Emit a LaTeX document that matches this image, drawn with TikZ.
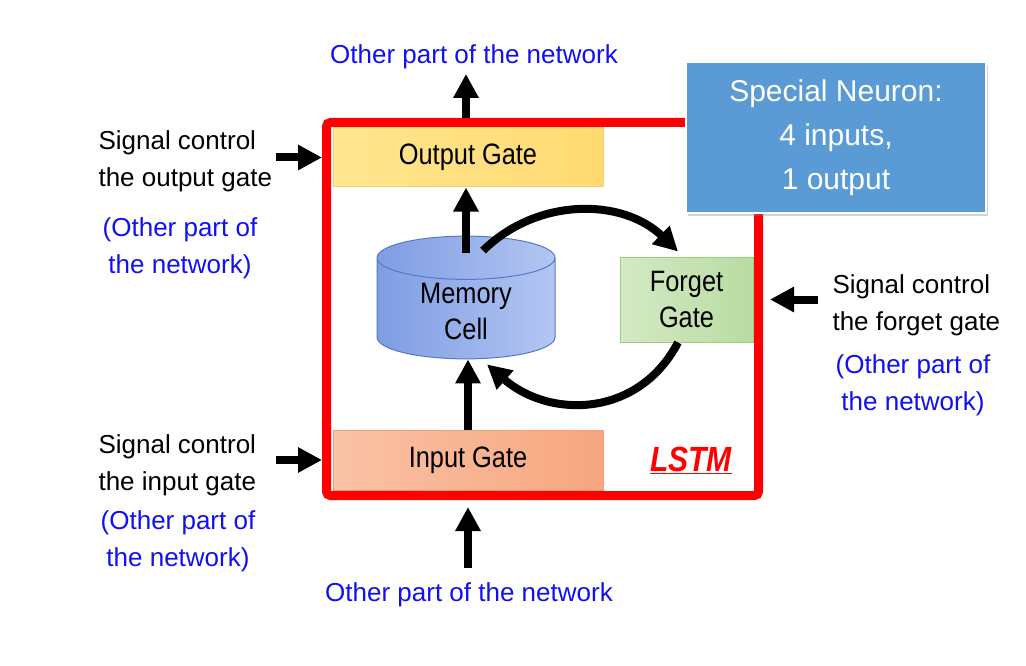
\documentclass[tikz,border=0pt]{standalone}
\usepackage{fontspec}
\setmainfont{Liberation Sans}
\newfontfamily\gatefont{Liberation Sans}[FakeStretch=0.86]
\usetikzlibrary{arrows.meta,shapes.geometric,shadows}
\definecolor{lstmred}{HTML}{FF0000}
\definecolor{netblue}{HTML}{1010F0}
\definecolor{neuronblue}{HTML}{5B9BD5}
\definecolor{outA}{HTML}{FFE690}
\definecolor{outB}{HTML}{FFDA70}
\definecolor{outL}{HTML}{F3CF70}
\definecolor{fgA}{HTML}{D3EAC4}
\definecolor{fgB}{HTML}{B8DCA1}
\definecolor{fgL}{HTML}{9CCB7E}
\definecolor{inA}{HTML}{FAC2A6}
\definecolor{inB}{HTML}{F7A67E}
\definecolor{inL}{HTML}{F3A07A}
\definecolor{memA}{HTML}{7F9DE4}
\definecolor{memB}{HTML}{B3C6F3}
\definecolor{memL}{HTML}{5878C6}
\tikzset{
  gate/.style={draw, line width=1pt, minimum width=270pt, minimum height=59pt,
    font=\gatefont\fontsize{29.5}{36}\selectfont},
  txt/.style={align=left, font=\fontsize{26}{37}\selectfont},
  net/.style={align=center, text=netblue, font=\fontsize{26}{37}\selectfont},
  fat/.style={line width=8pt, -{Triangle[length=24pt,width=24pt]}},
}
\begin{document}
\begin{tikzpicture}[x=1pt,y=-1pt]
  \useasboundingbox (0,0) rectangle (1026,666);
  % LSTM box
  \node[draw=lstmred, line width=9pt, rounded corners=4pt,
    minimum width=432pt, minimum height=373pt] (cell) at (542.5,309) {};
  % gates and memory
  \node[gate, draw=outL, left color=outA, right color=outB] (outg) at (468,157.5) {Output Gate};
  \node[gate, draw=inL, left color=inA, right color=inB, minimum height=60pt] (ing) at (468,460) {Input Gate};
  \node[gate, draw=fgL, left color=fgA, right color=fgB, align=center,
    minimum width=133pt, minimum height=85pt] (fgt) at (686.5,299.5) {Forget\\Gate};
  \node[cylinder, shape border rotate=90, aspect=0.44, draw=memL, line width=1pt,
    left color=memA, right color=memB, minimum width=178pt, minimum height=119pt,
    align=center, font=\gatefont\fontsize{29.5}{36}\selectfont, anchor=shape center] (mem) at (466,297.5) {Memory\\Cell};
  \node[text=lstmred, font=\gatefont\fontsize{35}{40}\selectfont\bfseries\itshape] (lstm) at (691,460) {\underline{LSTM}};
  % the special neuron
  \node[draw=white, line width=2.5pt, fill=neuronblue,
    drop shadow={shadow xshift=2pt, shadow yshift=-3pt, opacity=0.35},
    minimum width=300pt, minimum height=151pt, text=white, align=center,
    font=\fontsize{30}{44}\selectfont] (neuron) at (836,137.5) {Special Neuron:\\4 inputs,\\1 output};
  % outside labels
  \node[net, anchor=base] (top) at (474,64) {Other part of the network};
  \node[net, anchor=base] (bot) at (469,601) {Other part of the network};
  \node[txt, anchor=north west] (so) at (95,127) {Signal control\\the output gate};
  \node[txt, anchor=north west] (si) at (95,431) {Signal control\\the input gate};
  \node[txt, anchor=north west] (sf) at (829,271) {Signal control\\the forget gate};
  \foreach \nm/\xx/\yy in {no/180/214, ni/178/507, nf/913/351}
    \node[net, anchor=north] (\nm) at (\xx,\yy) {(Other part of\\the network)};
  % arrows
  \draw[fat] (cell.north -| mem) -- ([yshift=-1pt]top.south -| mem);
  \draw[fat] ([yshift=11pt]bot.north -| ing) -- ([yshift=-7pt]cell.south -| ing);
  \draw[fat] ([xshift=-46pt]cell.west |- outg) -- (cell.west |- outg);
  \draw[fat] ([xshift=-46pt]cell.west |- ing) -- (cell.west |- ing);
  \draw[fat] ([xshift=-11pt]sf.west |- fgt) -- ([xshift=7pt]cell.east |- fgt);
  \draw[fat] ([yshift=-17pt]mem.north) -- (outg.south -| mem);
  \draw[fat] (ing.north) -- (mem.south -| ing);
  \draw[fat] ([xshift=17pt,yshift=-15pt]mem.north)
    .. controls +(55,-54) and +(-55,-53) .. ([xshift=-8.5pt,yshift=5pt]fgt.north);
  \draw[fat] ([xshift=-8.5pt]fgt.south)
    .. controls +(-40,76) and +(62,54) .. ([xshift=21pt,yshift=-5pt]mem.south);
\end{tikzpicture}
\end{document}
